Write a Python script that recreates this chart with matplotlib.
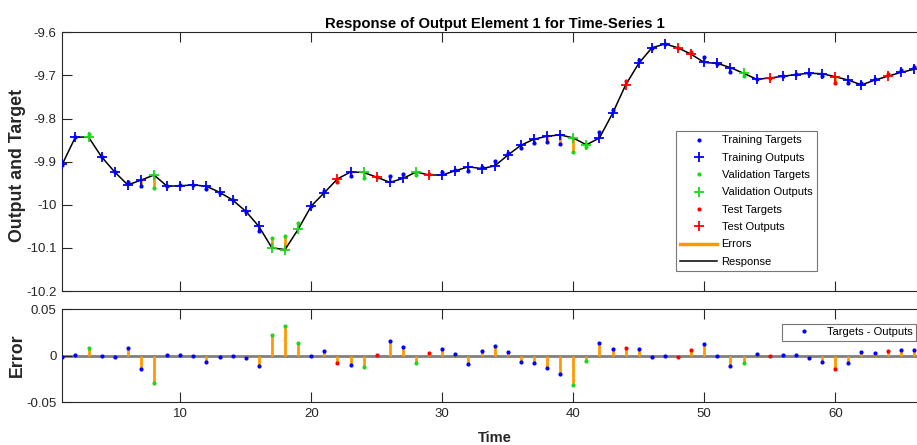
import numpy as np
import matplotlib
matplotlib.use("Agg")
import matplotlib.pyplot as plt
from matplotlib.lines import Line2D

plt.rcParams['font.family'] = ['Liberation Sans', 'DejaVu Sans']

# time steps and network outputs
time = list(range(1, 67))
outputs = [-9.906, -9.843, -9.843, -9.889, -9.924, -9.954, -9.943, -9.931, -9.957, -9.956,
           -9.954, -9.957, -9.971, -9.989, -10.015, -10.050, -10.100, -10.104, -10.057, -10.003,
           -9.972, -9.940, -9.924, -9.925, -9.936, -9.948, -9.939, -9.924, -9.931, -9.931,
           -9.921, -9.912, -9.916, -9.910, -9.885, -9.862, -9.848, -9.841, -9.838, -9.845,
           -9.861, -9.845, -9.788, -9.722, -9.672, -9.636, -9.627, -9.636, -9.651, -9.670,
           -9.672, -9.682, -9.695, -9.709, -9.706, -9.702, -9.698, -9.695, -9.696, -9.703,
           -9.711, -9.722, -9.711, -9.702, -9.693, -9.686]
# errors = targets - outputs
errors = [-0.0010, 0.0004, 0.0082, 0.0000, -0.0010, 0.0079, -0.0143, -0.0294, 0.0010, 0.0007,
          -0.0007, -0.0065, -0.0014, -0.0007, -0.0020, -0.0115, 0.0226, 0.0323, 0.0143, -0.0007,
          0.0047, -0.0075, -0.0097, -0.0122, 0.0010, 0.0158, 0.0093, -0.0075, 0.0025, 0.0072,
          0.0022, -0.0090, 0.0047, 0.0108, 0.0043, -0.0072, -0.0082, -0.0136, -0.0201, -0.0315,
          -0.0057, 0.0133, 0.0072, 0.0082, 0.0075, -0.0014, -0.0004, -0.0014, 0.0057, 0.0129,
          -0.0007, -0.0108, -0.0075, 0.0018, -0.0004, 0.0010, 0.0004, -0.0020, -0.0065, -0.0140,
          -0.0075, 0.0039, 0.0025, 0.0047, 0.0061, 0.0061]
val_steps = [3, 8, 17, 18, 19, 24, 28, 40, 41, 53]
test_steps = [22, 25, 29, 44, 48, 49, 55, 60, 64]

top_ticks = [-10.2, -10.1, -10, -9.9, -9.8, -9.7, -9.6]
top_labels = ['-10.2', '-10.1', '-10', '-9.9', '-9.8', '-9.7', '-9.6']
err_ticks = [-0.05, 0, 0.05]
err_labels = ['-0.05', '0', '0.05']

t = np.array(time)
out = np.array(outputs)
err = np.array(errors)
tgt = out + err

BLUE = (0, 0, 1)
GREEN = (0.1, 0.85, 0.1)
RED = (1, 0, 0)
ORANGE = (1, 0.6, 0)

is_val = np.isin(t, val_steps)
is_test = np.isin(t, test_steps)
is_train = ~(is_val | is_test)
groups = [(is_train, BLUE, 'Training'), (is_val, GREEN, 'Validation'), (is_test, RED, 'Test')]

W, H = 917, 445
fig = plt.figure(figsize=(W / 100, H / 100), dpi=100)

left, right = 62.3, 927
ax = fig.add_axes([left / W, 1 - 291 / H, (right - left) / W, (291 - 32.3) / H])
ax2 = fig.add_axes([left / W, 1 - 402.3 / H, (right - left) / W, (402.3 - 309.3) / H])

# top: outputs vs targets
ax.vlines(t, out, tgt, color=ORANGE, lw=2, zorder=2)
ax.plot(t, out, color='k', lw=1.1, zorder=3)
handles = []
for mask, col, name in groups:
    h1, = ax.plot(t[mask], tgt[mask], '.', color=col, ms=4, zorder=4, label=name + ' Targets')
    h2, = ax.plot(t[mask], out[mask], '+', color=col, ms=7, mew=1.3, zorder=5, label=name + ' Outputs')
    handles += [h1, h2]
handles.append(Line2D([], [], color=ORANGE, lw=2.5, label='Errors'))
handles.append(Line2D([], [], color='k', lw=1.1, label='Response'))

ax.set_xlim(1, 67)
ax.set_ylim(-10.2, -9.6)
ax.set_yticks(top_ticks)
ax.set_yticklabels(top_labels)
ax.set_xticks(range(10, 67, 10))
ax.set_xticklabels([])
ax.set_ylabel('Output and Target', fontsize=12.8, fontweight='bold')
ax.yaxis.set_label_coords(26 / W, 1 - 165 / H, transform=fig.transFigure)
ax.set_title('Response of Output Element 1 for Time-Series 1', fontsize=10.75, fontweight='bold', pad=3)
leg = ax.legend(handles=handles, loc='upper left', bbox_to_anchor=(676 / W, 1 - 131 / H),
                bbox_transform=fig.transFigure, fontsize=8, frameon=True, fancybox=False,
                edgecolor='#555555', handlelength=3.3, labelspacing=0.66, borderpad=0.4,
                handletextpad=0.4, borderaxespad=0)
leg.get_frame().set_linewidth(0.8)

# bottom: errors
ax2.axhline(0, color='#808080', lw=2, zorder=1)
ax2.vlines(t, 0, err, color=ORANGE, lw=2, zorder=2)
for mask, col, name in groups:
    ax2.plot(t[mask], err[mask], '.', color=col, ms=4, zorder=3)
h3 = Line2D([], [], ls='none', marker='.', color=BLUE, ms=4, label='Targets - Outputs')
leg2 = ax2.legend(handles=[h3], loc='upper right', bbox_to_anchor=(916 / W, 1 - 324 / H),
                  bbox_transform=fig.transFigure, fontsize=8, frameon=True, fancybox=False,
                  edgecolor='#555555', handlelength=3.3, borderpad=0.3, handletextpad=0.4,
                  borderaxespad=0)
leg2.get_frame().set_linewidth(0.8)
ax2.set_xlim(1, 67)
ax2.set_ylim(-0.05, 0.05)
ax2.set_yticks(err_ticks)
ax2.set_yticklabels(err_labels)
ax2.set_xticks(range(10, 67, 10))
ax2.set_ylabel('Error', fontsize=12.8, fontweight='bold')
ax2.yaxis.set_label_coords(26 / W, 1 - 355 / H, transform=fig.transFigure)
ax2.set_xlabel('Time', fontsize=10.5, fontweight='bold', labelpad=8)

for a in (ax, ax2):
    a.tick_params(direction='in', top=True, right=True, length=7, width=0.8,
                  labelsize=9.5, colors='#262626', pad=4)
    for s in a.spines.values():
        s.set_linewidth(0.8)
        s.set_color('#262626')
    a.yaxis.label.set_color('#262626')
    a.xaxis.label.set_color('#262626')

fig.savefig('out.png', dpi=100)
